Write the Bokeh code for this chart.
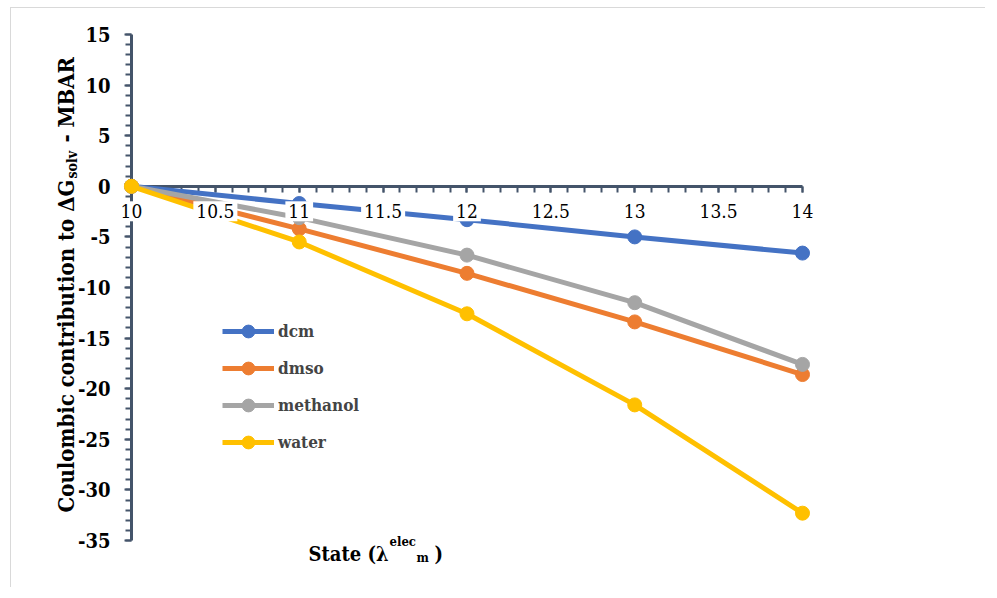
import math
from bokeh.plotting import figure
from bokeh.models import (Range1d, SingleIntervalTicker, NumeralTickFormatter,
                          Label, ColumnDataSource)
from bokeh.core.properties import value
from bokeh.embed import file_html
from bokeh.resources import INLINE

# ---- data ----
states = [10, 11, 12, 13, 14]
dcm = [0, -1.7, -3.3, -5.0, -6.6]
dmso = [0, -4.2, -8.6, -13.4, -18.6]
methanol = [0, -3.1, -6.8, -11.5, -17.6]
water = [0, -5.5, -12.6, -21.6, -32.3]
series_names = ["dcm", "dmso", "methanol", "water"]
series_values = [dcm, dmso, methanol, water]
series_colors = ["#4472C4", "#ED7D31", "#A5A5A5", "#FFC000"]
x_tick_values = [10, 10.5, 11, 11.5, 12, 12.5, 13, 13.5, 14]
x_tick_labels = ["10", "10.5", "11", "11.5", "12", "12.5", "13", "13.5", "14"]

FONT = "DejaVu Serif Condensed"
AXIS_COLOR = "#44546A"

p = figure(width=975, height=580, output_backend="svg", toolbar_location=None,
           x_range=Range1d(9.2847, 15.0969), y_range=Range1d(-39.743, 17.569),
           min_border=0)
p.styles = {"border-top": "1px solid #D9D9D9", "border-left": "1px solid #D9D9D9",
            "margin-left": "10px", "margin-top": "7px"}
p.outline_line_color = None
p.grid.visible = False
p.background_fill_color = "white"
p.border_fill_color = "white"

xa = p.xaxis[0]
xa.fixed_location = 0
xa.bounds = (10, 14)
xa.ticker = SingleIntervalTicker(interval=0.5, num_minor_ticks=5)
xa.major_label_overrides = {v: "" for v in x_tick_values}
xa.axis_line_color = AXIS_COLOR
xa.axis_line_width = 3
xa.major_tick_line_color = AXIS_COLOR
xa.minor_tick_line_color = AXIS_COLOR
xa.major_tick_line_width = 2
xa.minor_tick_line_width = 2
xa.major_tick_in = 0
xa.major_tick_out = 6
xa.minor_tick_in = 0
xa.minor_tick_out = 6

ya = p.yaxis[0]
ya.fixed_location = 10
ya.bounds = (-35, 15)
ya.ticker = SingleIntervalTicker(interval=5, num_minor_ticks=5)
ya.formatter = NumeralTickFormatter(format="0")
ya.axis_line_color = AXIS_COLOR
ya.axis_line_width = 3
ya.major_tick_line_color = AXIS_COLOR
ya.minor_tick_line_color = AXIS_COLOR
ya.major_tick_line_width = 2
ya.minor_tick_line_width = 2
ya.major_tick_in = 0
ya.major_tick_out = 7
ya.minor_tick_in = 0
ya.minor_tick_out = 6
ya.major_label_standoff = 14
ya.major_label_text_font = FONT
ya.major_label_text_font_style = "bold"
ya.major_label_text_font_size = "20px"
ya.major_label_text_color = "black"

for name, vals, col in zip(series_names, series_values, series_colors):
    src = ColumnDataSource(dict(x=states, y=vals))
    r1 = p.line("x", "y", source=src, line_color=col, line_width=5,
                legend_label=name)
    r2 = p.scatter("x", "y", source=src, size=14, fill_color=col,
                   line_color=col, legend_label=name)
    r1.level = "annotation"
    r2.level = "annotation"

lab_src = ColumnDataSource(dict(x=x_tick_values, y=[0] * len(x_tick_values),
                                t=x_tick_labels))
tr = p.text("x", "y", text="t", source=lab_src, text_font=value(FONT),
            text_font_size="19px", text_align="center", text_baseline="top",
            y_offset=15, text_color="black", background_fill_color="white",
            padding=3)
tr.level = "annotation"

lg = p.legend[0]
lg.location = (211, 130)
lg.margin = 0
lg.padding = 0
lg.spacing = 5
lg.glyph_width = 52
lg.glyph_height = 32
lg.label_height = 32
lg.label_standoff = 4
lg.border_line_color = None
lg.background_fill_alpha = 0
lg.label_text_font = FONT
lg.label_text_font_style = "bold"
lg.label_text_font_size = "17px"

rot = math.pi / 2
for txt, x, y, size in [("Coulombic contribution to \u0394G", 54, 76, "22px"),
                        ("solv", 60, 410, "14px"),
                        ("- MBAR", 54, 446, "22px")]:
    p.add_layout(Label(x=x, y=y, x_units="screen", y_units="screen", text=txt,
                       angle=rot, text_font=FONT, text_font_style="bold",
                       text_font_size=size, text_align="left",
                       text_baseline="alphabetic", text_color="black"))

for txt, x, y, size in [("State (\u03bb", 297, 35, "20px"),
                        ("elec", 378, 47, "13px"),
                        ("m", 405, 31, "13px"),
                        (")", 423, 35, "20px")]:
    p.add_layout(Label(x=x, y=y, x_units="screen", y_units="screen", text=txt,
                       text_font=FONT, text_font_style="bold",
                       text_font_size=size, text_align="left",
                       text_baseline="alphabetic", text_color="black"))

open("out.html", "w").write(file_html(p, INLINE))
